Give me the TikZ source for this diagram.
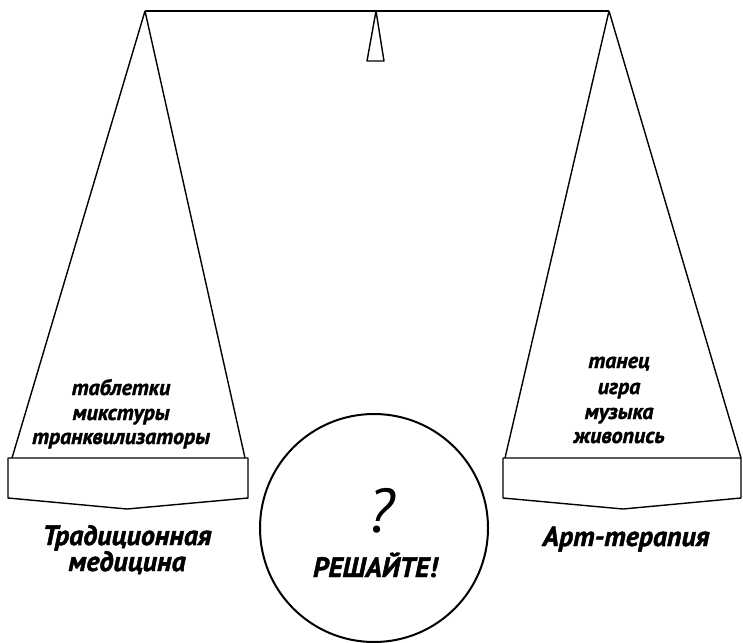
\documentclass[tikz,border=0pt]{standalone}
\usepackage{fontspec}
\setmainfont{PT Sans}[BoldItalicFeatures={FakeBold=1.6}]
\usetikzlibrary{calc}
\tikzset{
  every picture/.style={line width=1.4pt, line join=round},
  item/.style={font=\fontsize{22}{22}\selectfont\bfseries\itshape, anchor=base, inner sep=0pt},
  caption/.style={font=\fontsize{28}{28}\selectfont\bfseries\itshape, anchor=base, inner sep=0pt},
  pan/.style={draw=black, line width=1.4pt},
}

\begin{document}
\begin{tikzpicture}[x=1pt, y=-1pt]
  \useasboundingbox (0,0) rectangle (743,642);
  % beam and pivot
  \coordinate (lhook) at (145,11);
  \coordinate (rhook) at (609,11);
  \coordinate (pivot) at (376,11);
  \draw (lhook) -- (rhook);
  \draw (pivot) -- (384,61) -- (367,61) -- cycle;
  % left pan
  \coordinate (lrim1) at (12,458);
  \coordinate (lrim2) at (245,458);
  \draw (lhook) -- (lrim1);
  \draw (lhook) -- (lrim2);
  \draw[pan] (8,458) -- (248,458) -- (248,498) -- (127,509) -- (8,498) -- cycle;
  % right pan
  \coordinate (rrim1) at (505,458);
  \coordinate (rrim2) at (741,458);
  \draw (rhook) -- (rrim1);
  \draw (rhook) -- (rrim2);
  \draw[pan] (503,458) -- (741,458) -- (741,498) -- (623,509) -- (503,498) -- cycle;
  % left contents
  \node[item] (tab) at (121,395) {таблетки};
  \node[item] (mix) at (121,420) {микстуры};
  \node[item] (tra) at (121,444) {транквилизаторы};
  \node[caption] (trad) at (127,545) {Традиционная};
  \node[caption] (med) at (127,571) {медицина};
  % right contents
  \node[item] (dan) at (619,368) {танец};
  \node[item] (game) at (619,394) {игра};
  \node[item] (mus) at (619,419) {музыка};
  \node[item] (paint) at (619,443) {живопись};
  \node[caption] (art) at (626,546) {Арт-терапия};
  % the choice
  \node[draw, circle, line width=2pt, minimum size=228pt, inner sep=0pt] (choice) at (374,528) {};
  \node[font=\fontsize{62}{62}\selectfont\itshape, anchor=base, inner sep=0pt] (q) at (381,532) {?};
  \node[item, font=\fontsize{28}{28}\selectfont\bfseries\itshape] (dec) at (375,577) {РЕШАЙТЕ!};
\end{tikzpicture}
\end{document}
